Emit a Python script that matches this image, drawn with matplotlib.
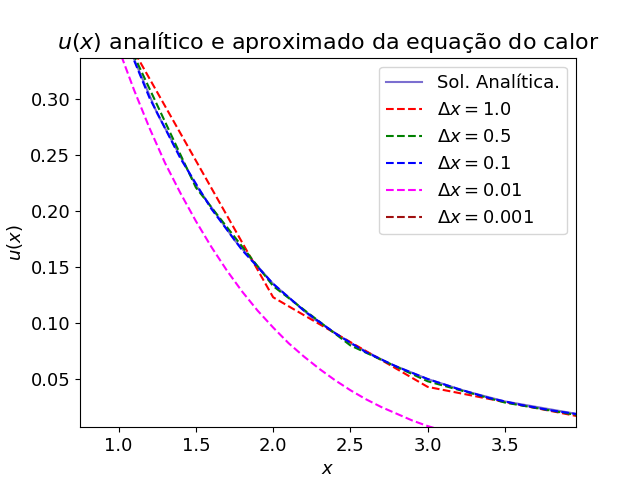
import numpy as np
import matplotlib.pyplot as plt

# values
x_an = [0.75, 1.0, 1.25, 1.5, 1.75, 2.0, 2.25, 2.5, 2.75, 3.0, 3.25, 3.5, 3.75, 4.0]
u_an = [0.472, 0.368, 0.287, 0.223, 0.174, 0.135, 0.105, 0.082, 0.064, 0.050, 0.039, 0.030, 0.024, 0.018]

x_10 = [1.0, 2.0, 3.0, 4.0]
u_10 = [0.367, 0.123, 0.043, 0.016]

x_05 = [1.0, 1.5, 2.0, 2.5, 3.0, 3.5, 4.0]
u_05 = [0.368, 0.221, 0.133, 0.080, 0.048, 0.029, 0.017]

x_01 = [0.8, 1.0, 1.2, 1.4, 1.6, 1.8, 2.0, 2.2, 2.4, 2.6, 2.8, 3.0, 3.2, 3.4, 3.6, 3.8, 4.0]
u_01 = [0.449, 0.368, 0.301, 0.247, 0.202, 0.165, 0.135, 0.111, 0.091, 0.074, 0.061, 0.050, 0.041, 0.033, 0.027, 0.022, 0.018]

x_001 = [0.9, 1.0, 1.1, 1.2, 1.3, 1.4, 1.5, 1.6, 1.7, 1.8, 1.9, 2.0, 2.1, 2.2, 2.3,
         2.4, 2.5, 2.6, 2.7, 2.8, 2.9, 3.0, 3.1, 3.2]
u_001 = [0.385, 0.345, 0.308, 0.274, 0.243, 0.216, 0.191, 0.168, 0.147, 0.128, 0.111, 0.096,
         0.082, 0.070, 0.059, 0.049, 0.040, 0.032, 0.025, 0.019, 0.013, 0.008, 0.004, 0.0]

x_0001 = []
u_0001 = []

plt.rcParams['font.size'] = 13
fig, ax = plt.subplots(figsize=(6.4, 4.8))
ax.plot(x_an, u_an, color='#7b6fd0', label='Sol. Analítica.')
ax.plot(x_10, u_10, '--', color='red', label=r'$\Delta x = 1.0$')
ax.plot(x_05, u_05, '--', color='green', label=r'$\Delta x = 0.5$')
ax.plot(x_01, u_01, '--', color='blue', label=r'$\Delta x = 0.1$')
ax.plot(x_001, u_001, '--', color='magenta', label=r'$\Delta x = 0.01$')
ax.plot(x_0001, u_0001, '--', color='#a01010', label=r'$\Delta x = 0.001$')
ax.set_xlim(0.75, 3.96)
ax.set_ylim(0.007, 0.337)
ax.set_xlabel('$x$')
ax.set_ylabel('$u(x)$')
ax.set_title(r'$u(x)$ analítico e aproximado da equação do calor', fontsize=16)
ax.legend(loc='upper right')
fig.savefig('out.png', dpi=100)
